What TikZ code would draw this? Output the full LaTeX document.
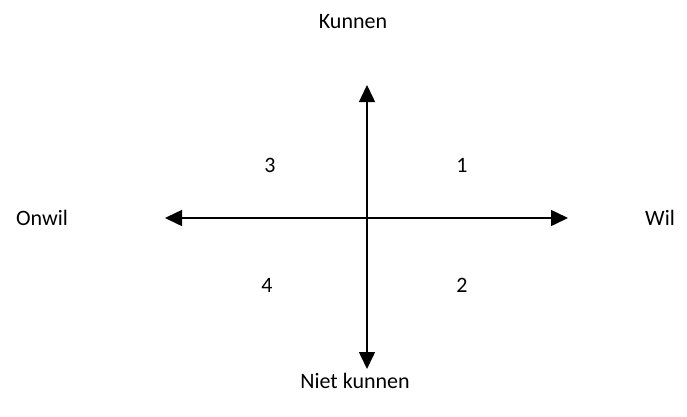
\documentclass[tikz,border=0pt]{standalone}
\usepackage{fontspec}
\setmainfont{Carlito}
\usetikzlibrary{arrows.meta}
\begin{document}
\begin{tikzpicture}[x=1pt,y=-1pt,
  axis/.style={line width=1.5pt,-{Triangle[width=16pt,length=17pt]}},
  lbl/.style={font=\fontsize{22}{26}\selectfont, inner sep=0pt}]
\useasboundingbox (0,0) rectangle (687,416);
\coordinate (c) at (367,218);
\coordinate (top) at (367,85);
\coordinate (bot) at (367,369);
\coordinate (lft) at (165,218);
\coordinate (rgt) at (568,218);
\draw[axis] (c) -- (top);
\draw[axis] (c) -- (bot);
\draw[axis] (c) -- (lft);
\draw[axis] (c) -- (rgt);
\node[lbl] (kunnen) at (353,22) {Kunnen};
\node[lbl] (niet) at (355,381) {Niet kunnen};
\node[lbl] (onwil) at (42,218) {Onwil};
\node[lbl] (wil) at (660,218) {Wil};
\node[lbl] (q3) at (270,165) {3};
\node[lbl] (q1) at (462,165) {1};
\node[lbl] (q4) at (267,285) {4};
\node[lbl] (q2) at (462,285) {2};
\end{tikzpicture}
\end{document}
